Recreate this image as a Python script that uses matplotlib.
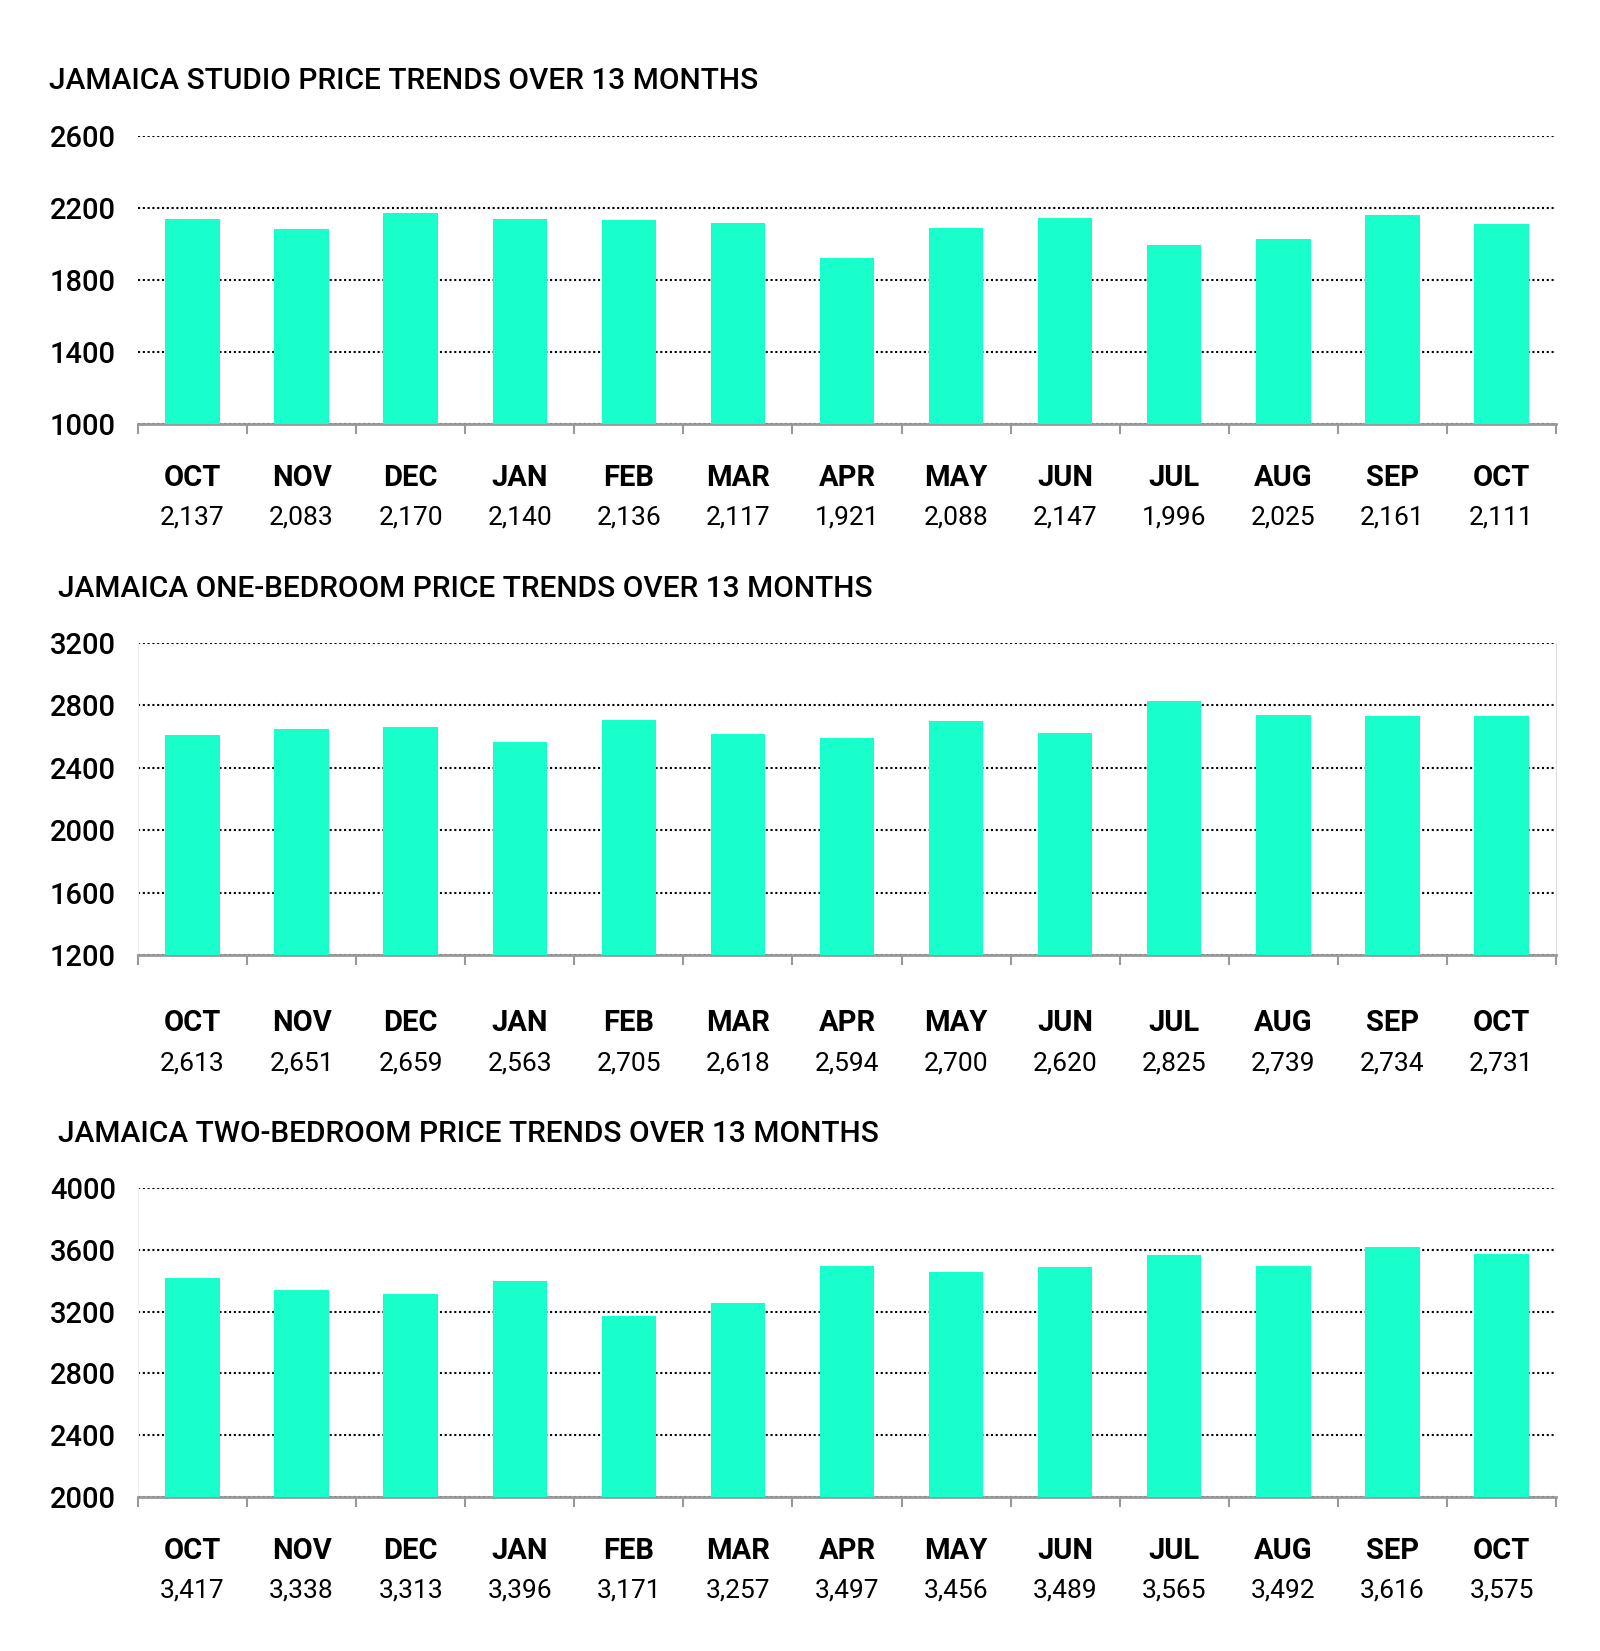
import matplotlib
matplotlib.use("Agg")
import matplotlib.pyplot as plt
import numpy as np

months = ["OCT", "NOV", "DEC", "JAN", "FEB", "MAR", "APR", "MAY", "JUN", "JUL", "AUG", "SEP", "OCT"]

studio = [2137, 2083, 2170, 2140, 2136, 2117, 1921, 2088, 2147, 1996, 2025, 2161, 2111]
one_bed = [2613, 2651, 2659, 2563, 2705, 2618, 2594, 2700, 2620, 2825, 2739, 2734, 2731]
two_bed = [3417, 3338, 3313, 3396, 3171, 3257, 3497, 3456, 3489, 3565, 3492, 3616, 3575]

titles = ["JAMAICA STUDIO PRICE TRENDS OVER 13 MONTHS",
          "JAMAICA ONE-BEDROOM PRICE TRENDS OVER 13 MONTHS",
          "JAMAICA TWO-BEDROOM PRICE TRENDS OVER 13 MONTHS"]
y_ranges = [(1000, 2600), (1200, 3200), (2000, 4000)]

BAR = "#19FFCB"
plt.rcParams["font.family"] = ["Roboto", "DejaVu Sans"]

W, H = 1600, 1651
fig = plt.figure(figsize=(16, 16.51), dpi=100)

# panel boxes in pixels: top, bottom, title y, title x, month offset, value offset
panels = [
    (136, 424, 81, 49, 54, 93),
    (643, 955, 589, 58, 68, 108),
    (1188, 1497, 1134, 58, 54, 93),
]

for data, title, (lo, hi), (top, bot, ty, tx, moff, voff) in zip(
        [studio, one_bed, two_bed], titles, y_ranges, panels):
    ax = fig.add_axes([138 / W, 1 - bot / H, 1418 / W, (bot - top) / H])
    x = np.arange(len(data))
    ax.bar(x, data, width=0.5, color=BAR, zorder=3)
    ax.set_xlim(-0.5, len(data) - 0.5)
    ax.set_ylim(lo, hi)
    ax.set_yticks(np.arange(lo, hi + 1, 400))
    ax.yaxis.grid(True, color="black", linestyle=(0, (1, 1.3)), linewidth=1.5, zorder=0)
    ax.set_axisbelow(True)
    ax.tick_params(axis="y", length=0, labelsize=21, pad=16)
    for lab in ax.get_yticklabels():
        lab.set_fontweight("medium")

    ax.set_xticks(np.arange(-0.5, len(data)), minor=False)
    ax.set_xticklabels([])
    ax.tick_params(axis="x", length=7, width=1.5, color="#999999", direction="out")

    for s in ["top", "left", "right"]:
        ax.spines[s].set_visible(False)
    ax.spines["bottom"].set_color("#999999")
    ax.spines["bottom"].set_linewidth(2)
    if title == titles[1]:
        ax.spines["right"].set_visible(True)
        ax.spines["right"].set_color("#dddddd")
        ax.spines["left"].set_visible(True)
        ax.spines["left"].set_color("#eeeeee")
    if title == titles[2]:
        ax.spines["left"].set_visible(True)
        ax.spines["left"].set_color("#eeeeee")

    for xi, m, v in zip(x, months, data):
        ax.annotate(m, xy=(xi, 0), xycoords=("data", "axes fraction"),
                    xytext=(0, -moff * 0.72), textcoords="offset points",
                    ha="center", va="center", fontsize=21, fontweight="bold")
        ax.annotate(f"{v:,}", xy=(xi, 0), xycoords=("data", "axes fraction"),
                    xytext=(0, -voff * 0.72), textcoords="offset points",
                    ha="center", va="center", fontsize=19)

    fig.text(tx / W, 1 - ty / H, title, ha="left", va="center",
             fontsize=21.5, fontweight="medium")

fig.savefig("out.png", dpi=100, facecolor="white")
